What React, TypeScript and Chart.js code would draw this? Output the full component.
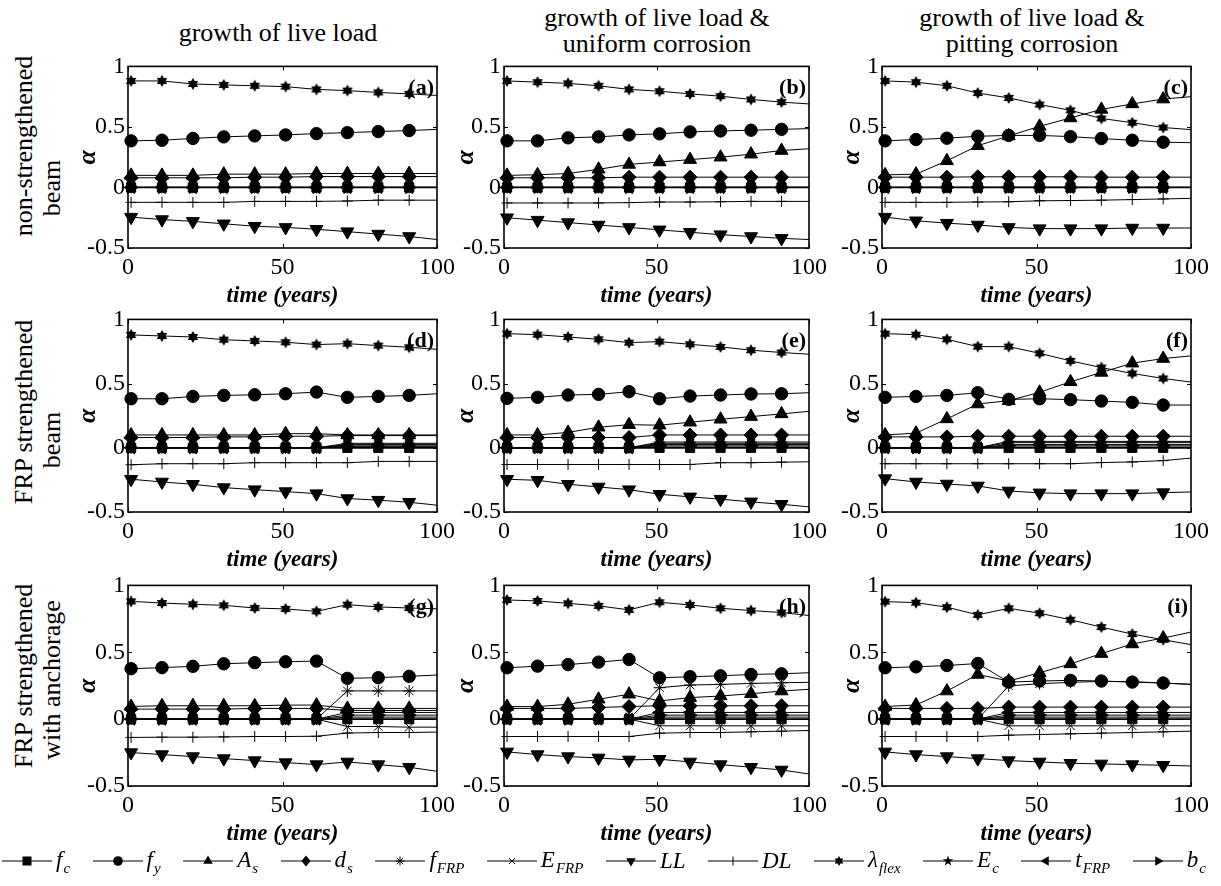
import React, { useEffect, useRef } from 'react';
import { Chart, registerables } from 'chart.js';

Chart.register(...registerables);

// ---------------- data ----------------
const YEARS = [1, 11, 21, 31, 41, 51, 61, 71, 81, 91, 100];
const X_TICKS = [0, 50, 100];
const Y_TICKS = [-0.5, 0, 0.5, 1];
const PANEL_LETTERS = ['(a)', '(b)', '(c)', '(d)', '(e)', '(f)', '(g)', '(h)', '(i)'];
const COL_TITLES = [
  ['growth of live load'],
  ['growth of live load &', 'uniform corrosion'],
  ['growth of live load &', 'pitting corrosion'],
];
const ROW_TITLES = [
  ['non-strengthened', 'beam'],
  ['FRP strengthened', 'beam'],
  ['FRP strengthened', 'with anchorage'],
];
const X_TITLE = 'time (years)';
const Y_TITLE = 'α';

// one row per panel: a, b, c, d, e, f, g, h, i
const F_C = [
  [0, 0, 0, 0, 0, 0, 0, 0, 0, 0, 0],
  [0, 0, 0, 0, 0, 0, 0, 0, 0, 0, 0],
  [0, 0, 0, 0, 0, 0, 0, 0, 0, 0, 0],
  [0, 0, 0, 0, 0, 0, 0, 0, 0, 0, 0],
  [0, 0, 0, 0, 0, 0, 0, 0, 0, 0, 0],
  [0, 0, 0, 0, 0, 0, 0, 0, 0, 0, 0],
  [0, 0, 0, 0, 0, 0, 0, 0, 0, 0, 0],
  [0, 0, 0, 0, 0, 0, 0, 0, 0, 0, 0],
  [0, 0, 0, 0, 0, 0, 0, 0, 0, 0, 0],
];
const F_Y = [
  [0.385, 0.39, 0.405, 0.418, 0.426, 0.434, 0.445, 0.453, 0.462, 0.47, 0.48],
  [0.385, 0.385, 0.41, 0.418, 0.434, 0.443, 0.459, 0.467, 0.473, 0.48, 0.486],
  [0.385, 0.396, 0.407, 0.423, 0.43, 0.43, 0.42, 0.404, 0.39, 0.374, 0.37],
  [0.382, 0.382, 0.4, 0.408, 0.413, 0.421, 0.434, 0.393, 0.4, 0.408, 0.421],
  [0.385, 0.393, 0.411, 0.416, 0.437, 0.382, 0.403, 0.411, 0.419, 0.421, 0.429],
  [0.393, 0.4, 0.408, 0.429, 0.377, 0.382, 0.375, 0.364, 0.354, 0.333, 0.333],
  [0.377, 0.385, 0.395, 0.414, 0.422, 0.429, 0.434, 0.305, 0.31, 0.32, 0.33],
  [0.384, 0.396, 0.408, 0.426, 0.446, 0.309, 0.317, 0.324, 0.334, 0.339, 0.347],
  [0.384, 0.391, 0.401, 0.416, 0.277, 0.285, 0.29, 0.285, 0.277, 0.27, 0.26],
];
const A_S = [
  [0.1, 0.1, 0.1, 0.11, 0.11, 0.11, 0.115, 0.115, 0.115, 0.115, 0.115],
  [0.1, 0.105, 0.115, 0.15, 0.19, 0.21, 0.23, 0.25, 0.275, 0.305, 0.32],
  [0.104, 0.11, 0.22, 0.345, 0.426, 0.505, 0.574, 0.645, 0.69, 0.73, 0.75],
  [0.1, 0.1, 0.1, 0.1, 0.1, 0.11, 0.11, 0.1, 0.1, 0.1, 0.1],
  [0.1, 0.1, 0.12, 0.16, 0.18, 0.176, 0.199, 0.222, 0.243, 0.264, 0.284],
  [0.1, 0.114, 0.225, 0.341, 0.367, 0.432, 0.514, 0.587, 0.659, 0.695, 0.716],
  [0.095, 0.1, 0.1, 0.1, 0.1, 0.105, 0.105, 0.08, 0.08, 0.08, 0.08],
  [0.094, 0.094, 0.111, 0.149, 0.186, 0.136, 0.161, 0.173, 0.19, 0.21, 0.223],
  [0.094, 0.106, 0.21, 0.334, 0.285, 0.347, 0.413, 0.49, 0.562, 0.606, 0.651],
];
const D_S = [
  [0.08, 0.08, 0.08, 0.08, 0.085, 0.085, 0.09, 0.09, 0.09, 0.09, 0.09],
  [0.08, 0.08, 0.08, 0.08, 0.085, 0.085, 0.085, 0.085, 0.085, 0.085, 0.085],
  [0.085, 0.085, 0.085, 0.088, 0.088, 0.088, 0.088, 0.085, 0.085, 0.085, 0.085],
  [0.08, 0.08, 0.08, 0.085, 0.085, 0.09, 0.09, 0.095, 0.095, 0.095, 0.095],
  [0.08, 0.08, 0.08, 0.08, 0.08, 0.1, 0.1, 0.1, 0.1, 0.1, 0.1],
  [0.085, 0.085, 0.085, 0.09, 0.09, 0.09, 0.09, 0.09, 0.09, 0.09, 0.09],
  [0.075, 0.075, 0.075, 0.075, 0.08, 0.08, 0.08, 0.065, 0.065, 0.065, 0.065],
  [0.08, 0.08, 0.08, 0.087, 0.094, 0.1, 0.1, 0.1, 0.1, 0.1, 0.1],
  [0.08, 0.08, 0.08, 0.08, 0.09, 0.09, 0.09, 0.09, 0.09, 0.09, 0.09],
];
const F_FRP = [
  [0, 0, 0, 0, 0, 0, 0, 0, 0, 0, 0],
  [0, 0, 0, 0, 0, 0, 0, 0, 0, 0, 0],
  [0, 0, 0, 0, 0, 0, 0, 0, 0, 0, 0],
  [0, 0, 0, 0, 0, 0, 0, 0.035, 0.035, 0.035, 0.035],
  [0, 0, 0, 0, 0, 0.045, 0.045, 0.045, 0.045, 0.045, 0.045],
  [0, 0, 0, 0, 0.05, 0.05, 0.05, 0.05, 0.05, 0.05, 0.05],
  [0, 0, 0, 0, 0, 0, 0, 0.211, 0.211, 0.211, 0.211],
  [0, 0, 0, 0, 0, 0.235, 0.255, 0.26, 0.267, 0.272, 0.275],
  [0, 0, 0, 0, 0.248, 0.265, 0.275, 0.282, 0.28, 0.27, 0.26],
];
const E_FRP = [
  [0, 0, 0, 0, 0, 0, 0, 0, 0, 0, 0],
  [0, 0, 0, 0, 0, 0, 0, 0, 0, 0, 0],
  [0, 0, 0, 0, 0, 0, 0, 0, 0, 0, 0],
  [0, 0, 0, 0, 0, 0, 0, 0.025, 0.025, 0.025, 0.025],
  [0, 0, 0, 0, 0, 0.035, 0.035, 0.035, 0.035, 0.035, 0.035],
  [0, 0, 0, 0, 0.04, 0.04, 0.04, 0.04, 0.04, 0.04, 0.04],
  [0, 0, 0, 0, 0, 0, 0, -0.055, -0.055, -0.06, -0.06],
  [0, 0, 0, 0, 0, -0.05, -0.05, -0.05, -0.05, -0.05, -0.05],
  [0, 0, 0, 0, -0.05, -0.05, -0.05, -0.05, -0.05, -0.05, -0.05],
];
const LL = [
  [-0.245, -0.265, -0.28, -0.3, -0.32, -0.33, -0.345, -0.365, -0.385, -0.405, -0.43],
  [-0.25, -0.27, -0.29, -0.31, -0.33, -0.35, -0.37, -0.39, -0.405, -0.42, -0.43],
  [-0.245, -0.275, -0.295, -0.31, -0.33, -0.34, -0.34, -0.34, -0.335, -0.335, -0.335],
  [-0.245, -0.266, -0.284, -0.31, -0.326, -0.341, -0.357, -0.395, -0.408, -0.424, -0.447],
  [-0.245, -0.253, -0.284, -0.305, -0.326, -0.362, -0.382, -0.4, -0.421, -0.44, -0.46],
  [-0.24, -0.266, -0.282, -0.297, -0.336, -0.351, -0.357, -0.357, -0.357, -0.349, -0.344],
  [-0.25, -0.265, -0.28, -0.295, -0.31, -0.325, -0.34, -0.32, -0.34, -0.36, -0.39],
  [-0.245, -0.265, -0.28, -0.29, -0.305, -0.3, -0.32, -0.34, -0.36, -0.38, -0.41],
  [-0.245, -0.265, -0.28, -0.295, -0.31, -0.32, -0.33, -0.335, -0.34, -0.345, -0.35],
];
const DL = [
  [-0.123, -0.123, -0.123, -0.123, -0.115, -0.115, -0.115, -0.112, -0.105, -0.105, -0.105],
  [-0.128, -0.128, -0.128, -0.128, -0.125, -0.12, -0.12, -0.118, -0.115, -0.115, -0.115],
  [-0.123, -0.123, -0.123, -0.12, -0.118, -0.11, -0.108, -0.105, -0.1, -0.095, -0.09],
  [-0.132, -0.124, -0.124, -0.124, -0.116, -0.116, -0.116, -0.116, -0.106, -0.106, -0.106],
  [-0.13, -0.13, -0.13, -0.13, -0.13, -0.13, -0.13, -0.116, -0.116, -0.112, -0.109],
  [-0.124, -0.124, -0.124, -0.124, -0.124, -0.124, -0.124, -0.115, -0.11, -0.1, -0.08],
  [-0.137, -0.135, -0.135, -0.133, -0.13, -0.13, -0.128, -0.104, -0.1, -0.1, -0.097],
  [-0.13, -0.13, -0.13, -0.13, -0.13, -0.105, -0.1, -0.1, -0.095, -0.09, -0.085],
  [-0.13, -0.13, -0.13, -0.13, -0.12, -0.115, -0.11, -0.105, -0.1, -0.095, -0.09],
];
const LAMBDA_FLEX = [
  [0.88, 0.88, 0.855, 0.847, 0.84, 0.833, 0.81, 0.8, 0.785, 0.773, 0.76],
  [0.88, 0.87, 0.86, 0.84, 0.81, 0.795, 0.773, 0.754, 0.727, 0.705, 0.69],
  [0.88, 0.87, 0.84, 0.78, 0.74, 0.685, 0.637, 0.57, 0.535, 0.495, 0.478],
  [0.879, 0.871, 0.863, 0.842, 0.832, 0.822, 0.804, 0.811, 0.796, 0.783, 0.767],
  [0.889, 0.881, 0.863, 0.845, 0.819, 0.827, 0.806, 0.786, 0.76, 0.742, 0.729],
  [0.889, 0.881, 0.845, 0.788, 0.788, 0.736, 0.677, 0.625, 0.579, 0.54, 0.512],
  [0.881, 0.868, 0.859, 0.851, 0.831, 0.824, 0.806, 0.856, 0.839, 0.831, 0.825],
  [0.891, 0.884, 0.866, 0.847, 0.817, 0.874, 0.854, 0.829, 0.812, 0.797, 0.775],
  [0.879, 0.871, 0.837, 0.78, 0.829, 0.792, 0.743, 0.688, 0.636, 0.594, 0.557],
];
const E_C = [
  [0, 0, 0, 0, 0, 0, 0, 0, 0, 0, 0],
  [0, 0, 0, 0, 0, 0, 0, 0, 0, 0, 0],
  [0, 0, 0, 0, 0, 0, 0, 0, 0, 0, 0],
  [0, 0, 0, 0, 0, 0, 0, 0.005, 0.005, 0.005, 0.005],
  [0, 0, 0, 0, 0, 0.005, 0.005, 0.005, 0.005, 0.005, 0.005],
  [0, 0, 0, 0, 0.005, 0.005, 0.005, 0.005, 0.005, 0.005, 0.005],
  [0, 0, 0, 0, 0, 0, 0, 0.015, 0.015, 0.015, 0.015],
  [0, 0, 0, 0, 0, 0.015, 0.015, 0.015, 0.015, 0.015, 0.015],
  [0, 0, 0, 0, 0.015, 0.015, 0.015, 0.015, 0.015, 0.015, 0.015],
];
const T_FRP = [
  [0, 0, 0, 0, 0, 0, 0, 0, 0, 0, 0],
  [0, 0, 0, 0, 0, 0, 0, 0, 0, 0, 0],
  [0, 0, 0, 0, 0, 0, 0, 0, 0, 0, 0],
  [0, 0, 0, 0, 0, 0, 0, 0.015, 0.015, 0.015, 0.015],
  [0, 0, 0, 0, 0, 0.025, 0.025, 0.025, 0.025, 0.025, 0.025],
  [0, 0, 0, 0, 0.025, 0.025, 0.025, 0.025, 0.025, 0.025, 0.025],
  [0, 0, 0, 0, 0, 0, 0, 0.05, 0.05, 0.05, 0.05],
  [0, 0, 0, 0, 0, 0.05, 0.05, 0.05, 0.05, 0.05, 0.05],
  [0, 0, 0, 0, 0.05, 0.05, 0.05, 0.05, 0.05, 0.05, 0.05],
];
const B_C = [
  [0, 0, 0, 0, 0, 0, 0, 0, 0, 0, 0],
  [0, 0, 0, 0, 0, 0, 0, 0, 0, 0, 0],
  [0, 0, 0, 0, 0, 0, 0, 0, 0, 0, 0],
  [0, 0, 0, 0, 0, 0, 0, 0.008, 0.008, 0.008, 0.008],
  [0, 0, 0, 0, 0, 0.015, 0.015, 0.015, 0.015, 0.015, 0.015],
  [0, 0, 0, 0, 0.015, 0.015, 0.015, 0.015, 0.015, 0.015, 0.015],
  [0, 0, 0, 0, 0, 0, 0, 0.03, 0.03, 0.03, 0.03],
  [0, 0, 0, 0, 0, 0.03, 0.03, 0.03, 0.03, 0.03, 0.03],
  [0, 0, 0, 0, 0.03, 0.03, 0.03, 0.03, 0.03, 0.03, 0.03],
];

// ---------------- layout ----------------
const FONT = '"Liberation Serif", "Times New Roman", serif';
const COL_X = [[128, 437], [504, 809], [882, 1191]];
const ROW_Y = [[65, 248], [318, 512], [584, 786]];
const Y_AXIS_W = 100;
const X_AXIS_H = 62;
const PAD_T = 16;
const PAD_R = 26;
const ALPHA_PAD = [45, 47, 55];

const COL_TITLE_POS = [[278, [33]], [657, [18, 44]], [1032, [18, 44]]] as const;
const ROW_TITLE_POS = [
  [[24, 146], [52, 188]],
  [[24, 412], [52, 440]],
  [[24, 676], [52, 680]],
];

const LEGEND_Y = 861;
const LEGEND_LABELS: [string, string][] = [
  ['f', 'c'], ['f', 'y'], ['A', 's'], ['d', 's'], ['f', 'FRP'], ['E', 'FRP'],
  ['LL', ''], ['DL', ''], ['λ', 'flex'], ['E', 'c'], ['t', 'FRP'], ['b', 'c'],
];
const LEGEND_KINDS = ['square', 'circle', 'up', 'diamond', 'asterisk', 'x', 'down', 'plus', 'hexagram', 'pentagram', 'left', 'right'];

// ---------------- helpers ----------------
function starPath(n: number, outer: number, inner: number, cx: number, cy: number): [number, number][] {
  const pts: [number, number][] = [];
  for (let k = 0; k < n * 2; k++) {
    const r = k % 2 === 0 ? outer : inner;
    const a = -Math.PI / 2 + (k * Math.PI) / n;
    pts.push([cx + r * Math.cos(a), cy + r * Math.sin(a)]);
  }
  return pts;
}

function makeStarCanvas(n: number, outer: number, inner: number): HTMLCanvasElement {
  const size = Math.ceil(outer * 2 + 2);
  const c = document.createElement('canvas');
  c.width = size;
  c.height = size;
  const ctx = c.getContext('2d')!;
  ctx.fillStyle = '#000';
  ctx.beginPath();
  starPath(n, outer, inner, size / 2, size / 2).forEach(([x, y], i) => (i === 0 ? ctx.moveTo(x, y) : ctx.lineTo(x, y)));
  ctx.closePath();
  ctx.fill();
  return c;
}

const boxPlugin = {
  id: 'panelBox',
  afterDraw(chart: any, _args: any, opts: any) {
    const { ctx, chartArea: a, scales } = chart;
    ctx.save();
    ctx.strokeStyle = '#000';
    ctx.lineWidth = 1;
    ctx.beginPath();
    for (const v of X_TICKS) {
      const x = Math.round(scales.x.getPixelForValue(v)) + 0.5;
      ctx.moveTo(x, a.bottom); ctx.lineTo(x, a.bottom - 4);
      ctx.moveTo(x, a.top); ctx.lineTo(x, a.top + 4);
    }
    for (const v of Y_TICKS) {
      const y = Math.round(scales.y.getPixelForValue(v)) + 0.5;
      ctx.moveTo(a.left, y); ctx.lineTo(a.left + 4, y);
      ctx.moveTo(a.right, y); ctx.lineTo(a.right - 4, y);
    }
    ctx.stroke();
    ctx.lineWidth = 1.6;
    ctx.strokeRect(a.left, a.top, a.right - a.left, a.bottom - a.top);
    ctx.fillStyle = '#000';
    ctx.font = `bold 22px ${FONT}`;
    ctx.textAlign = 'right';
    ctx.textBaseline = 'middle';
    ctx.fillText(opts.letter, a.right - 3, a.top + 22);
    ctx.restore();
  },
};

function Panel({ idx }: { idx: number }) {
  const ref = useRef<HTMLCanvasElement>(null);
  const r = Math.floor(idx / 3);
  const c = idx % 3;
  const [L, R] = COL_X[c];
  const [T, B] = ROW_Y[r];
  const cw = R - L + Y_AXIS_W + PAD_R;
  const ch = B - T + PAD_T + X_AXIS_H;

  useEffect(() => {
    const hexagram = makeStarCanvas(6, 6, 3.5);
    const pentagram = makeStarCanvas(5, 6.5, 2.6);
    const series: any[] = [
      { label: 'fc', data: F_C, style: 'rect', radius: 6.5, width: 1.8 },
      { label: 'fy', data: F_Y, style: 'circle', radius: 6.2 },
      { label: 'As', data: A_S, style: 'triangle', radius: 7.5 },
      { label: 'ds', data: D_S, style: 'rectRot', radius: 7 },
      { label: 'fFRP', data: F_FRP, style: 'star', radius: 6 },
      { label: 'EFRP', data: E_FRP, style: 'crossRot', radius: 6 },
      { label: 'LL', data: LL, style: 'triangle', radius: 7.5, rotation: 180 },
      { label: 'DL', data: DL, style: 'cross', radius: 5.5 },
      { label: 'lambda', data: LAMBDA_FLEX, style: hexagram, radius: 5 },
      { label: 'Ec', data: E_C, style: pentagram, radius: 5 },
      { label: 'tFRP', data: T_FRP, style: 'triangle', radius: 7, rotation: 270 },
      { label: 'bc', data: B_C, style: 'triangle', radius: 7, rotation: 90 },
    ];
    const datasets = series.map((s) => ({
      label: s.label,
      data: YEARS.map((x, i) => ({ x, y: s.data[idx][i] })),
      borderColor: '#000',
      borderWidth: s.width || 1,
      backgroundColor: '#000',
      pointBackgroundColor: '#000',
      pointBorderColor: '#000',
      pointBorderWidth: 1,
      pointStyle: s.style,
      pointRotation: s.rotation || 0,
      pointRadius: YEARS.map((_, i) => (i < YEARS.length - 1 ? s.radius : 0)),
      tension: 0,
      clip: false,
    }));
    const tickFont = { family: FONT, size: 24 };
    const chart = new Chart(ref.current!, {
      type: 'line',
      data: { datasets },
      plugins: [boxPlugin],
      options: {
        animation: false,
        responsive: false,
        maintainAspectRatio: false,
        events: [],
        layout: { padding: { top: PAD_T, right: PAD_R, left: 0, bottom: 0 } },
        plugins: {
          legend: { display: false },
          tooltip: { enabled: false },
          panelBox: { letter: PANEL_LETTERS[idx] },
        } as any,
        scales: {
          x: {
            type: 'linear',
            min: 0,
            max: 100,
            afterFit: (s: any) => { s.height = X_AXIS_H; },
            grid: { display: false, drawTicks: false },
            border: { display: false },
            ticks: { stepSize: 50, maxRotation: 0, autoSkip: false, padding: 5, color: '#000', font: tickFont },
            title: {
              display: true,
              text: X_TITLE,
              color: '#000',
              padding: { top: 0, bottom: 0 },
              font: { family: FONT, size: 23, weight: 'bold', style: 'italic' },
            },
          },
          y: {
            type: 'linear',
            min: -0.5,
            max: 1,
            afterFit: (s: any) => { s.width = Y_AXIS_W; },
            grid: { display: false, drawTicks: false },
            border: { display: false },
            ticks: { stepSize: 0.5, padding: 3, color: '#000', font: tickFont, callback: (v: any) => String(v) },
            title: {
              display: true,
              text: Y_TITLE,
              color: '#000',
              padding: { top: ALPHA_PAD[c], bottom: 0 },
              font: { family: FONT, size: 26, weight: 'bold', style: 'italic' },
            },
          },
        },
      } as any,
    });
    return () => chart.destroy();
  }, [idx]);

  return (
    <canvas
      ref={ref}
      width={cw}
      height={ch}
      style={{ position: 'absolute', left: L - Y_AXIS_W, top: T - PAD_T, width: cw, height: ch }}
    />
  );
}

function LegendMarker({ kind, cx }: { kind: string; cx: number }) {
  const cy = 10;
  const poly = (pts: [number, number][]) => (
    <polygon points={pts.map((p) => p.join(',')).join(' ')} fill="#000" />
  );
  const tri = (angle: number) => {
    const pts: [number, number][] = [0, 1, 2].map((k) => {
      const a = ((angle + k * 120 - 90) * Math.PI) / 180;
      return [cx + 5.5 * Math.cos(a), cy + 5.5 * Math.sin(a)];
    });
    return poly(pts);
  };
  switch (kind) {
    case 'square':
      return <rect x={cx - 4.5} y={cy - 4.5} width={9} height={9} fill="#000" />;
    case 'circle':
      return <circle cx={cx} cy={cy} r={4.8} fill="#000" />;
    case 'up':
      return tri(0);
    case 'down':
      return tri(180);
    case 'left':
      return tri(270);
    case 'right':
      return tri(90);
    case 'diamond':
      return poly([[cx, cy - 5.5], [cx + 4.5, cy], [cx, cy + 5.5], [cx - 4.5, cy]]);
    case 'asterisk':
      return (
        <g stroke="#000" strokeWidth={1}>
          <line x1={cx - 4.5} y1={cy} x2={cx + 4.5} y2={cy} />
          <line x1={cx} y1={cy - 4.5} x2={cx} y2={cy + 4.5} />
          <line x1={cx - 3.2} y1={cy - 3.2} x2={cx + 3.2} y2={cy + 3.2} />
          <line x1={cx - 3.2} y1={cy + 3.2} x2={cx + 3.2} y2={cy - 3.2} />
        </g>
      );
    case 'x':
      return (
        <g stroke="#000" strokeWidth={1}>
          <line x1={cx - 3} y1={cy - 3} x2={cx + 3} y2={cy + 3} />
          <line x1={cx - 3} y1={cy + 3} x2={cx + 3} y2={cy - 3} />
        </g>
      );
    case 'plus':
      return (
        <g stroke="#000" strokeWidth={1}>
          <line x1={cx} y1={cy - 4.5} x2={cx} y2={cy + 4.5} />
        </g>
      );
    case 'hexagram':
      return poly(starPath(6, 5, 2.9, cx, cy));
    case 'pentagram':
      return poly(starPath(5, 5.5, 2.2, cx, cy));
    default:
      return null;
  }
}

const LEGEND_SYM_W = 50;

export default function App() {
  const textBase: React.CSSProperties = {
    position: 'absolute',
    fontFamily: FONT,
    fontSize: 26,
    lineHeight: '26px',
    whiteSpace: 'nowrap',
    color: '#000',
  };
  return (
    <div style={{ position: 'absolute', left: 0, top: 0, width: 1221, height: 886, background: '#fff', overflow: 'hidden' }}>
      {COL_TITLES.map((lines, ci) =>
        lines.map((t, li) => (
          <div
            key={`ct${ci}${li}`}
            style={{ ...textBase, left: COL_TITLE_POS[ci][0], top: COL_TITLE_POS[ci][1][li], transform: 'translate(-50%, -50%)' }}
          >
            {t}
          </div>
        ))
      )}
      {ROW_TITLES.map((lines, ri) =>
        lines.map((t, li) => (
          <div
            key={`rt${ri}${li}`}
            style={{
              ...textBase,
              left: ROW_TITLE_POS[ri][li][0],
              top: ROW_TITLE_POS[ri][li][1],
              transform: 'translate(-50%, -50%) rotate(-90deg)',
            }}
          >
            {t}
          </div>
        ))
      )}
      {[0, 1, 2, 3, 4, 5, 6, 7, 8].map((i) => (
        <Panel key={i} idx={i} />
      ))}
      <div
        style={{
          position: 'absolute',
          left: 2,
          top: LEGEND_Y - 10,
          width: 1204,
          height: 20,
          display: 'flex',
          justifyContent: 'space-between',
          alignItems: 'center',
        }}
      >
        {LEGEND_LABELS.map(([base, sub], i) => (
          <div key={`lg${i}`} style={{ display: 'flex', alignItems: 'center', whiteSpace: 'nowrap', height: 20 }}>
            <svg width={LEGEND_SYM_W} height={20} style={{ display: 'block' }}>
              <line x1={0} y1={10} x2={LEGEND_SYM_W} y2={10} stroke="#000" strokeWidth={1} />
              <LegendMarker kind={LEGEND_KINDS[i]} cx={LEGEND_SYM_W / 2} />
            </svg>
            <span style={{ fontFamily: FONT, fontStyle: 'italic', fontSize: 23, lineHeight: '20px', marginLeft: 4, color: '#000' }}>
              {base}
              {sub ? (
                <span style={{ fontSize: 15, position: 'relative', top: 6, marginLeft: 1 }}>{sub}</span>
              ) : null}
            </span>
          </div>
        ))}
      </div>
    </div>
  );
}
